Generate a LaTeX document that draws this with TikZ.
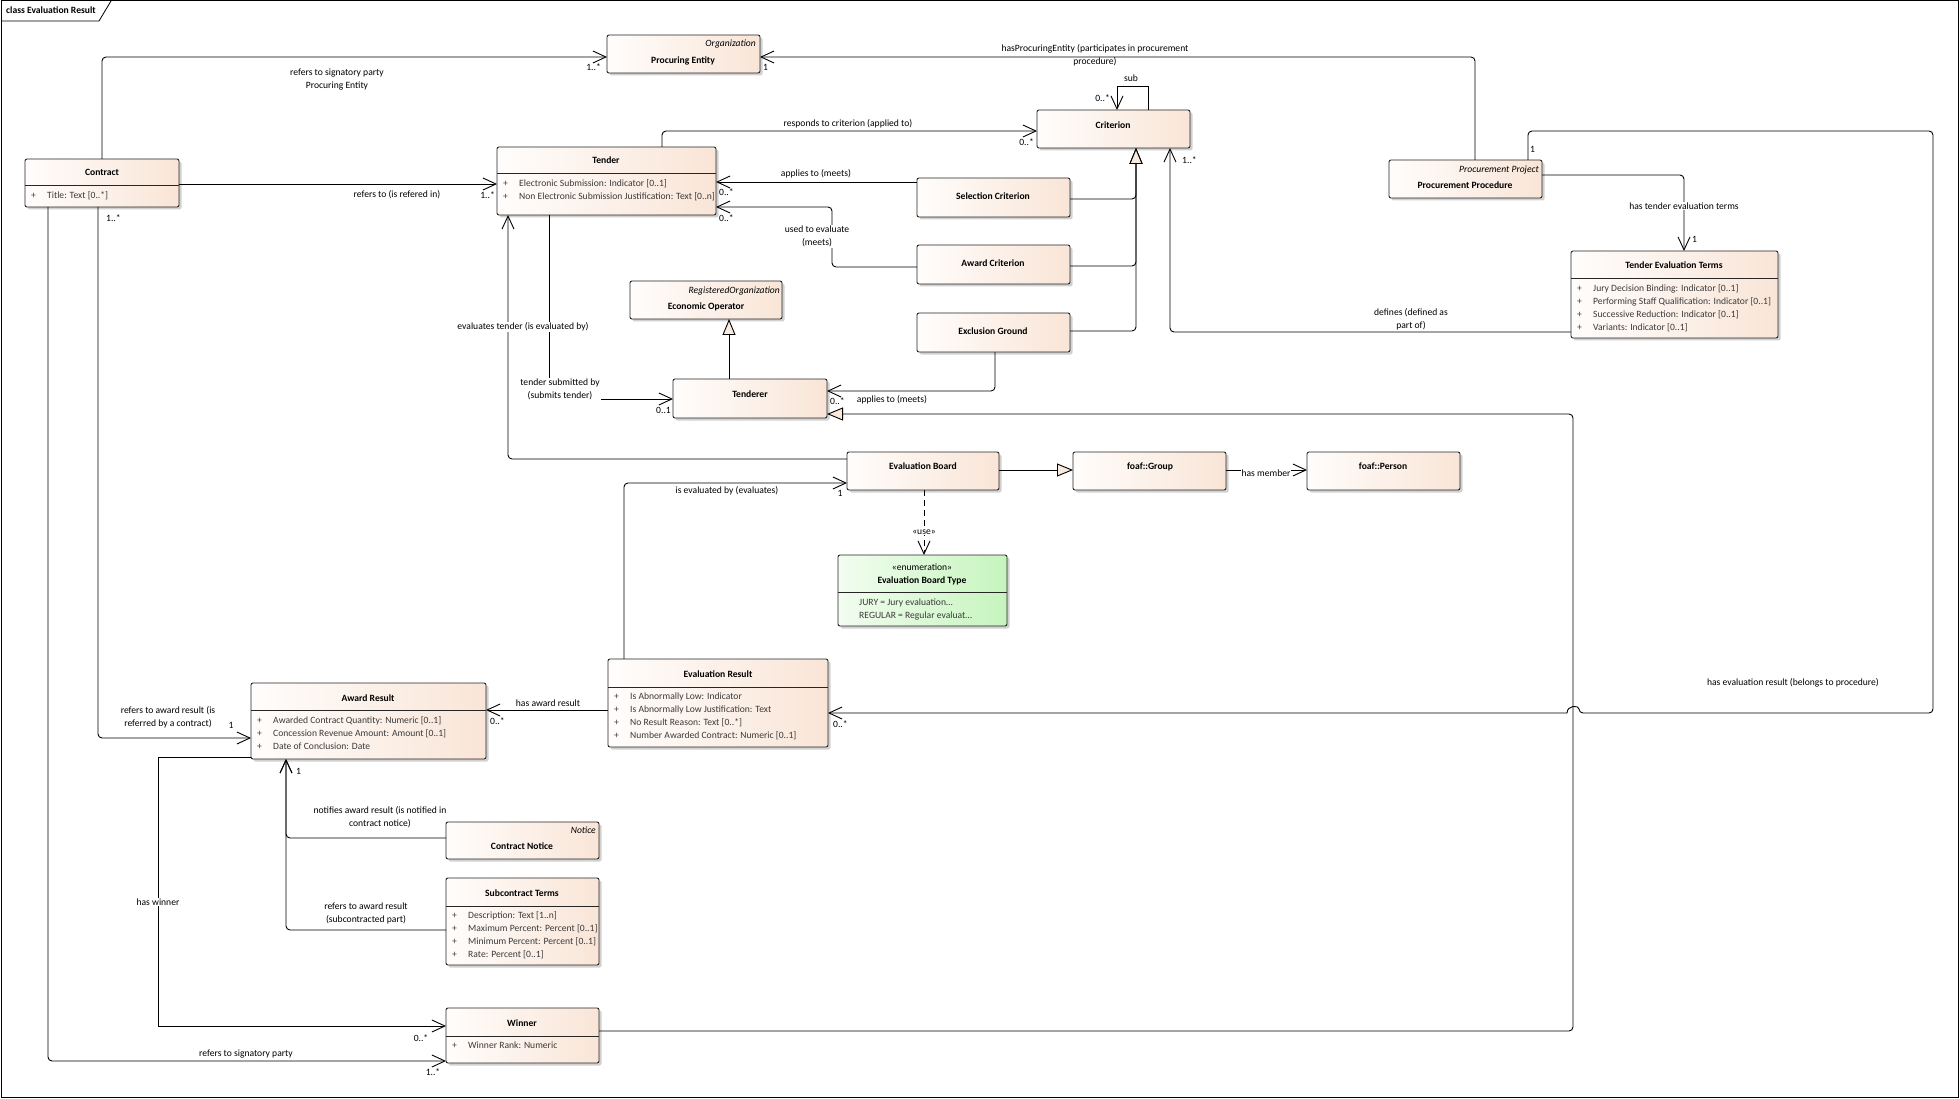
\documentclass[tikz,border=0pt]{standalone}
\usepackage{fontspec}
\setmainfont{Carlito}
\usetikzlibrary{arrows.meta,shadows,fit}
\definecolor{cL}{HTML}{FFFDFC}
\definecolor{cR}{HTML}{F9E5D7}
\definecolor{gL}{HTML}{F2FDF0}
\definecolor{gR}{HTML}{C6F4BD}
\definecolor{triC}{HTML}{F8EADD}
\definecolor{attrC}{HTML}{3A3A3A}
\newcommand\fsz{\fontsize{9.6}{13}\selectfont}
\newcommand\umlbox[6][cls]{\node[#1, fit={(#3,#4) (#5,#6)}] (#2) {};}
\newcommand\umlattr[4]{\node[attr] (#1p) at (#2+6,#3) {+}; \node[attr] (#1) at (#2+22,#3) {#4};}
\newcommand\umlsep[2]{\draw[sepl] (#1.west |- 0,#2) -- (#1.east |- 0,#2);}
\tikzset{
 cls/.style={draw=black!85, line width=0.9pt, rounded corners=2pt, left color=cL, right color=cR, inner sep=0pt, outer sep=0pt, drop shadow={shadow xshift=2.5pt, shadow yshift=-2.5pt, fill=black!45, opacity=0.4}},
 enum/.style={cls, left color=gL, right color=gR},
 txt/.style={font=\fsz, inner sep=0pt, text height=6.8pt, text depth=2.2pt},
 ttl/.style={txt, font=\fsz\bfseries},
 stereo/.style={txt, font=\fsz\itshape, anchor=east},
 attr/.style={txt, anchor=west, text=attrC},
 lbl/.style={font=\fsz, align=center, inner sep=1pt},
 lblw/.style={lbl, fill=white},
 mult/.style={txt},
 sepl/.style={draw=black!85, line width=0.9pt},
 conn/.style={draw=black, line width=0.9pt, rounded corners=4pt},
 assoc/.style={conn, -{Straight Barb[length=13pt,width=12pt]}},
 gen/.style={conn, -{Triangle[length=16pt,width=13pt,fill=triC]}},
}
\begin{document}
\begin{tikzpicture}[x=1pt,y=-1pt]
\useasboundingbox (0,0) rectangle (1960,1099);
\fill[white] (0,0) rectangle (1960,1099);
\draw[line width=1pt] (1,1) rectangle (1958,1097);
\draw[line width=0.8pt] (1,21) -- (99,21) -- (111,1);
\node[ttl, anchor=west] (frametitle) at (6,11) {class Evaluation Result};

% ---------- classes ----------
\umlbox{contract}{25}{159}{179}{207}
\node[ttl] (contractT) at (102,173) {Contract};
\umlsep{contract}{185}
\umlattr{contractA}{25}{196}{Title: Text [0..*]}

\umlbox{procent}{607}{35}{760}{73}
\node[stereo] (procentS) at (756,44) {Organization};
\node[ttl] (procentT) at (683,61) {Procuring Entity};

\umlbox{criterion}{1037}{110}{1190}{148}
\node[ttl] (criterionT) at (1113,126) {Criterion};

\umlbox{tender}{497}{147}{716}{215}
\node[ttl] (tenderT) at (606,161) {Tender};
\umlsep{tender}{173}
\umlattr{tenderA}{497}{184}{Electronic Submission: Indicator [0..1]}
\umlattr{tenderB}{497}{197}{Non Electronic Submission Justification: Text [0..n]}

\umlbox{selcrit}{917}{178}{1070}{217}
\node[ttl] (selcritT) at (993,197) {Selection Criterion};
\umlbox{awcrit}{917}{245}{1070}{284}
\node[ttl] (awcritT) at (993,264) {Award Criterion};
\umlbox{exgr}{917}{313}{1070}{352}
\node[ttl] (exgrT) at (993,332) {Exclusion Ground};

\umlbox{procproc}{1389}{160}{1542}{198}
\node[stereo] (procprocS) at (1539,170) {Procurement Project};
\node[ttl] (procprocT) at (1465,186) {Procurement Procedure};

\umlbox{tet}{1571}{251}{1778}{338}
\node[ttl] (tetT) at (1674,266) {Tender Evaluation Terms};
\umlsep{tet}{278}
\umlattr{tetA}{1571}{289}{Jury Decision Binding: Indicator [0..1]}
\umlattr{tetB}{1571}{302}{Performing Staff Qualification: Indicator [0..1]}
\umlattr{tetC}{1571}{315}{Successive Reduction: Indicator [0..1]}
\umlattr{tetD}{1571}{328}{Variants: Indicator [0..1]}

\umlbox{ecop}{630}{281}{782}{319}
\node[stereo] (ecopS) at (780,291) {RegisteredOrganization};
\node[ttl] (ecopT) at (706,307) {Economic Operator};

\umlbox{tenderer}{673}{379}{827}{418}
\node[ttl] (tendererT) at (750,395) {Tenderer};

\umlbox{evboard}{847}{452}{999}{490}
\node[ttl] (evboardT) at (923,467) {Evaluation Board};
\umlbox{group}{1073}{452}{1226}{490}
\node[ttl] (groupT) at (1150,467) {foaf::Group};
\umlbox{person}{1307}{452}{1460}{490}
\node[ttl] (personT) at (1383,467) {foaf::Person};

\umlbox[enum]{ebt}{838}{555}{1007}{626}
\node[txt] (ebtS) at (922,568) {«enumeration»};
\node[ttl] (ebtT) at (922,581) {Evaluation Board Type};
\umlsep{ebt}{592}
\node[attr] (ebtA) at (859,603) {JURY = Jury evaluation…};
\node[attr] (ebtB) at (859,616) {REGULAR = Regular evaluat…};

\umlbox{evres}{608}{659}{828}{747}
\node[ttl] (evresT) at (718,675) {Evaluation Result};
\umlsep{evres}{687}
\umlattr{evresA}{608}{697}{Is Abnormally Low: Indicator}
\umlattr{evresB}{608}{710}{Is Abnormally Low Justification: Text}
\umlattr{evresC}{608}{723}{No Result Reason: Text [0..*]}
\umlattr{evresD}{608}{736}{Number Awarded Contract: Numeric [0..1]}

\umlbox{awres}{251}{683}{486}{759}
\node[ttl] (awresT) at (368,699) {Award Result};
\umlsep{awres}{710}
\umlattr{awresA}{251}{721}{Awarded Contract Quantity: Numeric [0..1]}
\umlattr{awresB}{251}{734}{Concession Revenue Amount: Amount [0..1]}
\umlattr{awresC}{251}{747}{Date of Conclusion: Date}

\umlbox{cnotice}{446}{822}{599}{859}
\node[stereo] (cnoticeS) at (596,831) {Notice};
\node[ttl] (cnoticeT) at (522,847) {Contract Notice};

\umlbox{subterms}{446}{878}{599}{965}
\node[ttl] (subtermsT) at (522,894) {Subcontract Terms};
\umlsep{subterms}{906}
\umlattr{subA}{446}{916}{Description: Text [1..n]}
\umlattr{subB}{446}{929}{Maximum Percent: Percent [0..1]}
\umlattr{subC}{446}{942}{Minimum Percent: Percent [0..1]}
\umlattr{subD}{446}{955}{Rate: Percent [0..1]}

\umlbox{winner}{446}{1008}{599}{1063}
\node[ttl] (winnerT) at (522,1024) {Winner};
\umlsep{winner}{1036}
\umlattr{winnerA}{446}{1046}{Winner Rank: Numeric}

% ---------- connectors ----------
\draw[assoc] (contract.north -| 102,0) -- (102,57) -- (procent.west |- 0,57);
\draw[assoc] (contract.east |- 0,184) -- (tender.west |- 0,184);
\draw[assoc] (procproc.north -| 1475,0) -- (1475,57) -- (procent.east |- 0,57);
\draw[assoc, sharp corners] (criterion.north -| 1148,0) -- (1148,86) -- (1117,86) -- (criterion.north -| 1117,0);
\draw[assoc] (tender.north -| 662,0) -- (662,131) -- (criterion.west |- 0,131);
\draw[assoc] (selcrit.west |- 0,182) -- (tender.east |- 0,182);
\draw[assoc] (awcrit.west |- 0,267) -- (832,267) -- (832,207) -- (tender.east |- 0,207);
\draw[gen] (selcrit.east |- 0,199) -- (1136,199) -- (criterion.south -| 1136,0);
\draw[gen] (awcrit.east |- 0,266) -- (1136,266) -- (criterion.south -| 1136,0);
\draw[gen] (exgr.east |- 0,331) -- (1136,331) -- (criterion.south -| 1136,0);
\draw[assoc] (tet.west |- 0,332) -- (1170,332) -- (criterion.south -| 1170,0);
\draw[assoc] (procproc.east |- 0,175) -- (1684,175) -- (tet.north -| 1684,0);
\draw[gen] (winner.east |- 0,1031) -- (1573,1031) -- (1573,414) -- (tenderer.east |- 0,414);
\draw[assoc] (procproc.north -| 1528,0) -- (1528,131) -- (1933,131) -- (1933,713) -- (1579,713) [sharp corners] .. controls (1579,705) and (1567,705) .. (1567,713) -- (evres.east |- 0,713);
\draw[assoc] (exgr.south -| 995,0) -- (995,391) -- (tenderer.east |- 0,391);
\draw[assoc, sharp corners] (tender.south -| 549,0) -- (549,399) -- (tenderer.west |- 0,399);
\draw[assoc] (evboard.west |- 0,459) -- (508,459) -- (tender.south -| 508,0);
\draw[gen] (tenderer.north -| 729,0) -- (ecop.south -| 729,0);
\draw[gen] (evboard.east |- 0,470) -- (group.west |- 0,470);
\draw[assoc] (group.east |- 0,470) -- (person.west |- 0,470);
\draw[assoc, dash pattern=on 6pt off 4pt] (evboard.south -| 924,0) -- (ebt.north -| 924,0);
\draw[assoc] (evres.north -| 624,0) -- (624,483) -- (evboard.west |- 0,483);
\draw[assoc] (evres.west |- 0,710) -- (awres.east |- 0,710);
\draw[assoc] (contract.south -| 98,0) -- (98,738) -- (awres.west |- 0,738);
\draw[assoc] (contract.south -| 48,0) -- (48,1061) -- (winner.west |- 0,1061);
\draw[assoc, sharp corners] (awres.west |- 0,757) -- (158,757) -- (158,1026) -- (winner.west |- 0,1026);
\draw[assoc] (cnotice.west |- 0,838) -- (286,838) -- (awres.south -| 286,0);
\draw[assoc] (subterms.west |- 0,930) -- (286,930) -- (awres.south -| 286,0);

% ---------- labels ----------
\node[lbl] (l1) at (337,79.5) {refers to signatory party\\Procuring Entity};
\node[lbl] (l2) at (397,195) {refers to (is refered in)};
\node[lbl] (l3) at (1095,55.5) {hasProcuringEntity (participates in procurement\\procedure)};
\node[lbl] (l4) at (1131,78) {sub};
\node[lbl] (l5) at (848,124) {responds to criterion (applied to)};
\node[lbl] (l6) at (816,174) {applies to (meets)};
\node[lblw] (l7) at (817,236.5) {used to evaluate\\(meets)};
\node[lbl] (l9) at (1411,319.5) {defines (defined as\\part of)};
\node[lblw] (l10) at (1684,206) {has tender evaluation terms};
\node[lbl] (l11) at (1793,683) {has evaluation result (belongs to procedure)};
\node[lbl] (l13) at (892,400) {applies to (meets)};
\node[lblw] (l14) at (560,389.5) {tender submitted by\\(submits tender)};
\node[lblw] (l15) at (523,327) {evaluates tender (is evaluated by)};
\node[lblw] (l18) at (1266,473) {has member};
\node[lblw] (l19) at (924,532) {«use»};
\node[lbl] (l20) at (727,491) {is evaluated by (evaluates)};
\node[lbl] (l21) at (548,703) {has award result};
\node[lbl] (l22) at (168,717.5) {refers to award result (is\\referred by a contract)};
\node[lbl] (l23) at (246,1054) {refers to signatory party};
\node[lblw] (l24) at (158,902) {has winner};
\node[lbl] (l25) at (380,817.5) {notifies award result (is notified in\\contract notice)};
\node[lbl] (l26) at (366,913.5) {refers to award result\\(subcontracted part)};

% ---------- multiplicities ----------
\node[mult, anchor=east] (m1) at (601,68) {1..*};
\node[mult, anchor=east] (m2) at (495,196) {1..*};
\node[mult, anchor=west] (m3) at (763,68) {1};
\node[mult, anchor=east] (m4) at (1110,99) {0..*};
\node[mult, anchor=east] (m5) at (1034,143) {0..*};
\node[mult, anchor=west] (m6) at (719,193) {0..*};
\node[mult, anchor=west] (m7) at (719,219) {0..*};
\node[mult, anchor=west] (m9) at (1182,161) {1..*};
\node[mult, anchor=west] (m10) at (1692,240) {1};
\node[mult, anchor=west] (m11a) at (1530,150) {1};
\node[mult, anchor=west] (m11b) at (833,725) {0..*};
\node[mult, anchor=west] (m13) at (830,402) {0..*};
\node[mult, anchor=east] (m14) at (671,411) {0..1};
\node[mult] (m20) at (840,494) {1};
\node[mult, anchor=west] (m21) at (490,722) {0..*};
\node[mult, anchor=west] (m22a) at (106,219) {1..*};
\node[mult] (m22b) at (231,726) {1};
\node[mult] (m23) at (433,1073) {1..*};
\node[mult] (m24) at (421,1039) {0..*};
\node[mult, anchor=west] (m25) at (296,772) {1};
\end{tikzpicture}
\end{document}
